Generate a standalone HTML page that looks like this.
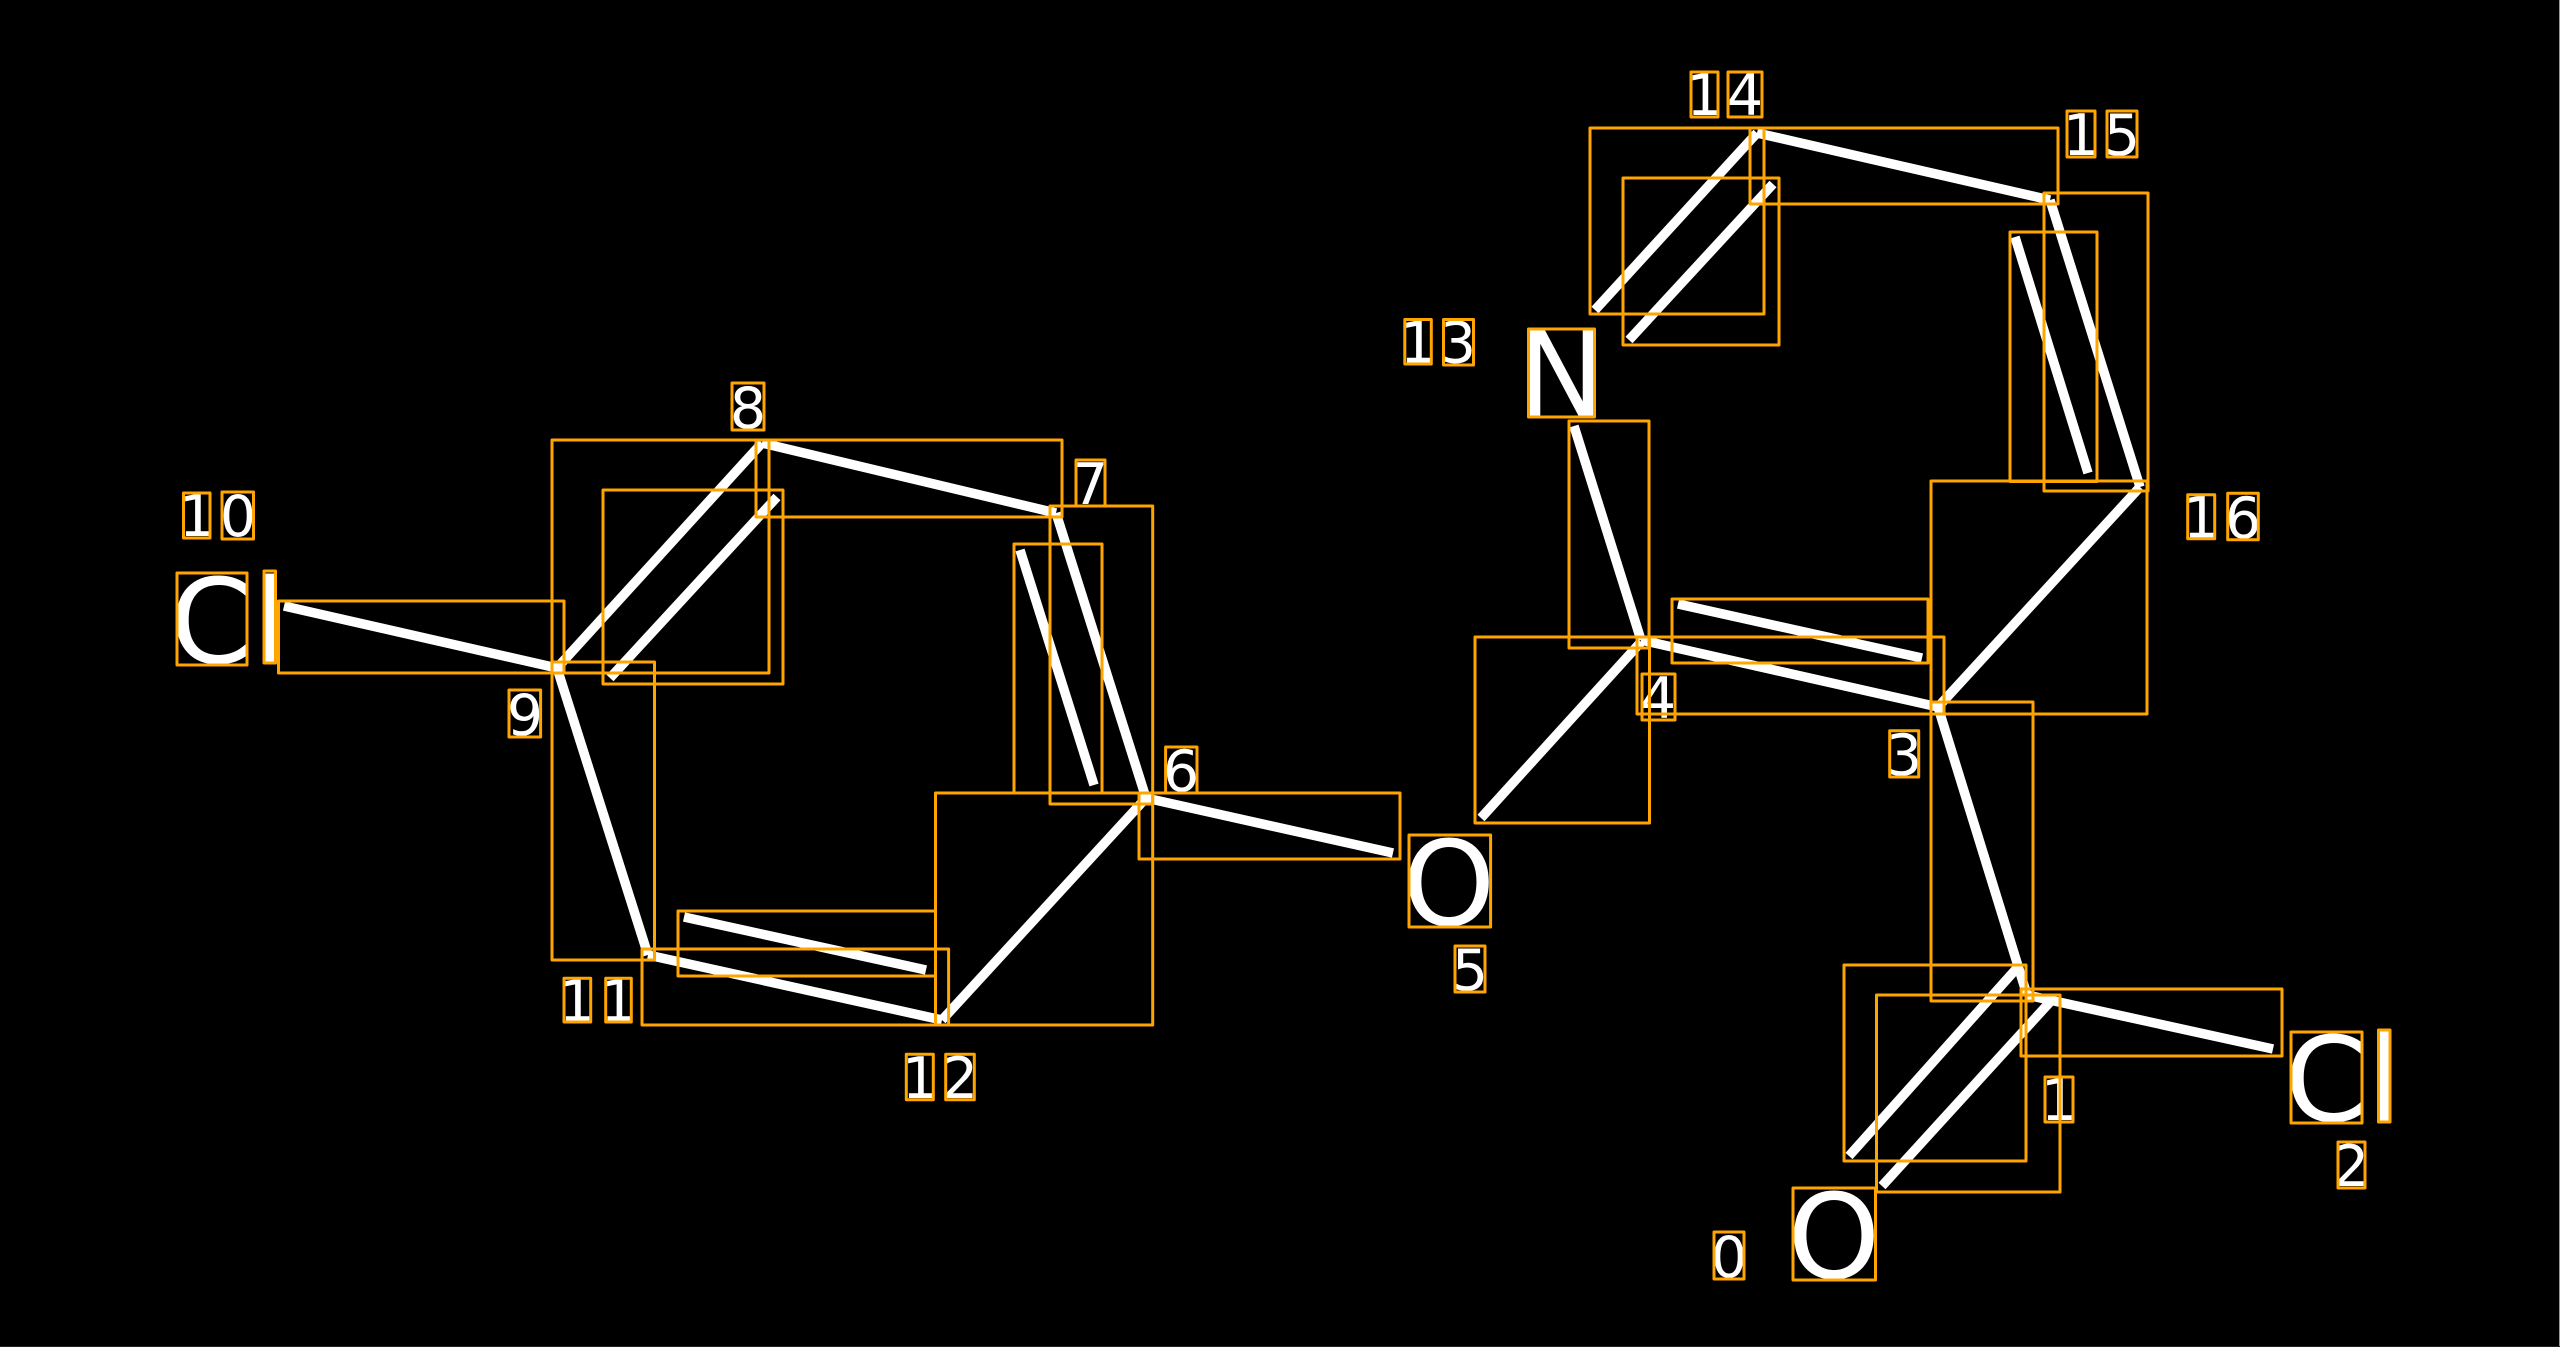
<!DOCTYPE html>
<html><head><meta charset="utf-8"><style>
html,body{margin:0;padding:0;background:#000;width:2560px;height:1347px;overflow:hidden}
svg{display:block}
text{font-family:"DejaVu Sans",sans-serif;fill:#fff;text-anchor:middle}
.d{font-size:57px}.a{font-size:118px}
</style></head><body>
<svg width="2560" height="1347" viewBox="0 0 2560 1347" xmlns="http://www.w3.org/2000/svg">
<rect width="2560" height="1347" fill="#000"/>
<rect x="2559" y="0" width="1" height="1347" fill="#999"/>
<rect x="0" y="1346" width="2560" height="1" fill="#222"/>
<g stroke="#fff" stroke-width="9.5" fill="none" stroke-linecap="butt">
<line x1="284" y1="606" x2="557" y2="668"/>
<line x1="557" y1="668" x2="762" y2="443"/>
<line x1="610" y1="678" x2="777" y2="497"/>
<line x1="762" y1="443" x2="1056" y2="513"/>
<line x1="1056" y1="513" x2="1146" y2="798"/>
<line x1="1020" y1="550" x2="1094" y2="785"/>
<line x1="1146" y1="798" x2="942" y2="1020"/>
<line x1="942" y1="1020" x2="648" y2="955"/>
<line x1="684" y1="917" x2="926" y2="970"/>
<line x1="648" y1="955" x2="557" y2="668"/>
<line x1="1146" y1="798" x2="1393" y2="853"/>
<line x1="1641" y1="642" x2="1481" y2="818"/>
<line x1="1641" y1="640" x2="1574" y2="426"/>
<line x1="1641" y1="640" x2="1938" y2="707"/>
<line x1="1678" y1="604" x2="1922" y2="658"/>
<line x1="1938" y1="707" x2="2140" y2="487"/>
<line x1="2140" y1="487" x2="2050" y2="200"/>
<line x1="2015" y1="237" x2="2088" y2="473"/>
<line x1="2050" y1="200" x2="1757" y2="133"/>
<line x1="1757" y1="133" x2="1595" y2="310"/>
<line x1="1773" y1="184" x2="1629" y2="340"/>
<line x1="1938" y1="707" x2="2027" y2="995"/>
<line x1="2017" y1="968" x2="1849" y2="1156"/>
<line x1="2050" y1="1002" x2="1882" y2="1186"/>
<line x1="2027" y1="995" x2="2273" y2="1049"/>
</g>
<g>
<text class="a" x="211" y="663">C</text><text class="a" x="270" y="663">l</text>
<text class="a" x="2326" y="1121">C</text><text class="a" x="2384" y="1121">l</text>
<text class="a" x="1449" y="925">O</text>
<text class="a" x="1834" y="1278">O</text>
<text class="a" x="1561.5" y="415.5">N</text>
<text class="d" x="197" y="536">1</text><text class="d" x="238" y="536">0</text>
<text class="d" x="748" y="428">8</text>
<text class="d" x="525" y="735">9</text>
<text class="d" x="1090" y="504">7</text>
<text class="d" x="1181" y="791">6</text>
<text class="d" x="577" y="1021">1</text><text class="d" x="618.5" y="1021">1</text>
<text class="d" x="920" y="1098">1</text><text class="d" x="960" y="1098">2</text>
<text class="d" x="1470" y="990">5</text>
<text class="d" x="1658" y="718">4</text>
<text class="d" x="1904" y="775">3</text>
<text class="d" x="1418" y="362.5">1</text><text class="d" x="1458" y="362.5">3</text>
<text class="d" x="1704.5" y="115">1</text><text class="d" x="1745" y="115">4</text>
<text class="d" x="2081" y="155">1</text><text class="d" x="2122" y="155">5</text>
<text class="d" x="2201" y="537.5">1</text><text class="d" x="2243" y="538">6</text>
<text class="d" x="2059" y="1120">1</text>
<text class="d" x="2351" y="1186">2</text>
<text class="d" x="1729" y="1277">0</text>
</g>
<g stroke="#FFA500" stroke-width="3" fill="none" stroke-linejoin="round">
<rect x="278.5" y="601" width="285.5" height="72"/>
<rect x="552" y="440" width="217" height="233"/>
<rect x="603" y="490" width="180" height="194"/>
<rect x="756" y="440" width="306" height="77"/>
<rect x="1050" y="506" width="102.7" height="298"/>
<rect x="1014" y="544" width="88" height="249"/>
<rect x="935.5" y="793" width="217.2" height="232"/>
<rect x="642" y="949" width="306.6" height="76"/>
<rect x="678" y="911" width="257.5" height="65"/>
<rect x="552" y="662" width="102.5" height="298"/>
<rect x="1139" y="793" width="261" height="66"/>
<rect x="1475" y="637" width="174.5" height="186"/>
<rect x="1569" y="421" width="80" height="227"/>
<rect x="1637" y="637" width="307" height="77"/>
<rect x="1672" y="599" width="256" height="64"/>
<rect x="1931" y="481" width="216" height="233"/>
<rect x="2044" y="193" width="104" height="298"/>
<rect x="2010" y="232" width="87" height="249.5"/>
<rect x="1750" y="128" width="308" height="76"/>
<rect x="1590" y="128" width="174" height="186"/>
<rect x="1623" y="178" width="156" height="167"/>
<rect x="1931" y="702" width="102" height="299"/>
<rect x="1844" y="965" width="182" height="196"/>
<rect x="1876.5" y="995" width="183.5" height="197"/>
<rect x="2021" y="989" width="261" height="67"/>
<rect x="177" y="573" width="70" height="92"/>
<rect x="264" y="571" width="11.5" height="92"/>
<rect x="2291" y="1032" width="71" height="91"/>
<rect x="2378.5" y="1030" width="11.5" height="92"/>
<rect x="1409" y="835" width="81.6" height="92"/>
<rect x="1793" y="1188" width="82.5" height="92"/>
<rect x="1528.5" y="329" width="66" height="88"/>
<rect x="183.5" y="493" width="26.5" height="45"/>
<rect x="222" y="492" width="31.5" height="47"/>
<rect x="732" y="383" width="32" height="47"/>
<rect x="509" y="690" width="31.6" height="47"/>
<rect x="1076" y="460" width="29" height="46"/>
<rect x="1165.6" y="747" width="31.4" height="46"/>
<rect x="564" y="978.3" width="26.7" height="43.7"/>
<rect x="605.7" y="978.3" width="25.6" height="43.7"/>
<rect x="906.3" y="1054.3" width="27" height="45.4"/>
<rect x="945.7" y="1054.3" width="28.6" height="45.4"/>
<rect x="1455" y="946" width="30" height="46"/>
<rect x="1642" y="674" width="33" height="46"/>
<rect x="1889.7" y="730.7" width="29" height="46.3"/>
<rect x="1404.8" y="319.5" width="26.5" height="44.5"/>
<rect x="1443.5" y="319.5" width="30" height="45.5"/>
<rect x="1691" y="72" width="27" height="45"/>
<rect x="1728" y="72" width="34" height="45"/>
<rect x="2067" y="111" width="28" height="46"/>
<rect x="2107" y="111" width="30" height="46"/>
<rect x="2187.7" y="494.7" width="27" height="44"/>
<rect x="2227.7" y="493.3" width="30.6" height="46.4"/>
<rect x="2045" y="1077" width="28" height="45"/>
<rect x="2338" y="1142" width="27" height="46"/>
<rect x="1714" y="1232" width="30" height="47"/>
</g>
</svg>
</body></html>
